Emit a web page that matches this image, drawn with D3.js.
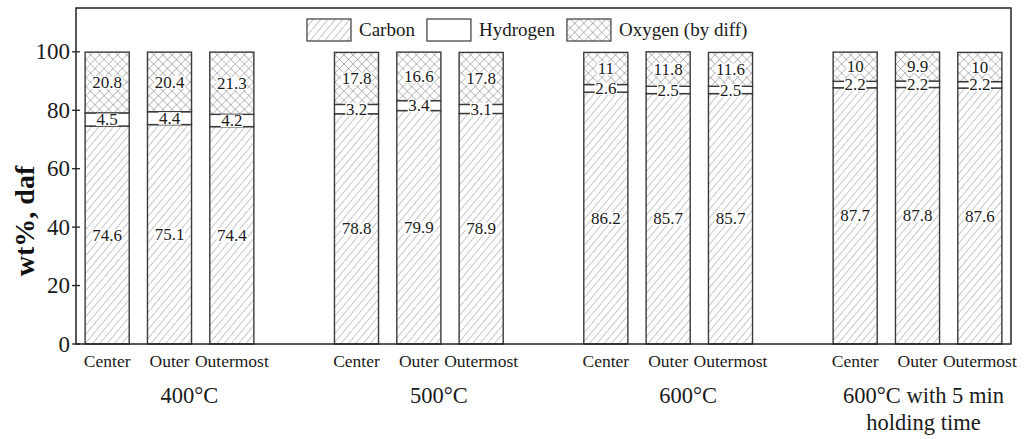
<!DOCTYPE html>
<html>
<head>
<meta charset="utf-8">
<script src="https://cdn.jsdelivr.net/npm/d3@7"></script>
<style>
  html, body { margin: 0; padding: 0; background: #fff; }
  svg { display: block; font-family: "Liberation Serif", "Times New Roman", serif; }
</style>
</head>
<body>
<svg id="chart" width="1025" height="439"></svg>
<script>
// Elemental composition of char samples (wt%, dry ash-free basis)
const groups = ["400°C", "500°C", "600°C", "600°C with 5 min|holding time"];
const positions = ["Center", "Outer", "Outermost"];
const carbon   = [74.6, 75.1, 74.4, 78.8, 79.9, 78.9, 86.2, 85.7, 85.7, 87.7, 87.8, 87.6];
const hydrogen = [4.5, 4.4, 4.2, 3.2, 3.4, 3.1, 2.6, 2.5, 2.5, 2.2, 2.2, 2.2];
const oxygen   = [20.8, 20.4, 21.3, 17.8, 16.6, 17.8, 11, 11.8, 11.6, 10, 9.9, 10];
const yTicks = [0, 20, 40, 60, 80, 100];
const seriesNames = ["Carbon", "Hydrogen", "Oxygen (by diff)"];

const W = 1025, H = 439;
const margin = { top: 8, right: 14, bottom: 95, left: 76 };
const svg = d3.select("#chart");

// Patterns: single diagonal hatch for carbon, cross-hatch for oxygen
const defs = svg.append("defs");
const hatch = defs.append("pattern")
  .attr("id", "hatchC").attr("patternUnits", "userSpaceOnUse")
  .attr("width", 5.6).attr("height", 10)
  .attr("patternTransform", "rotate(40)");
hatch.append("rect").attr("width", 5.6).attr("height", 10).attr("fill", "#fff");
hatch.append("line").attr("x1", 0).attr("y1", 0).attr("x2", 0).attr("y2", 10)
  .attr("stroke", "#808080").attr("stroke-width", 0.9);

const cross = defs.append("pattern")
  .attr("id", "hatchO").attr("patternUnits", "userSpaceOnUse")
  .attr("width", 6.4).attr("height", 6.4)
  .attr("patternTransform", "rotate(45)");
cross.append("rect").attr("width", 6.4).attr("height", 6.4).attr("fill", "#fff");
cross.append("line").attr("x1", 0).attr("y1", 0).attr("x2", 0).attr("y2", 6.4)
  .attr("stroke", "#707070").attr("stroke-width", 0.8);
cross.append("line").attr("x1", 0).attr("y1", 0).attr("x2", 6.4).attr("y2", 0)
  .attr("stroke", "#707070").attr("stroke-width", 0.8);

const fills = ["url(#hatchC)", "#fff", "url(#hatchO)"];

// Slots: each group holds one slot per position plus one empty spacer slot
const perGroup = positions.length + 1;
const nSlots = groups.length * perGroup - 1;
const x = d3.scaleBand()
  .domain(d3.range(nSlots))
  .range([margin.left, W - margin.right])
  .paddingInner(0.293)
  .paddingOuter(0.1465);

const y = d3.scaleLinear()
  .domain([0, 115])
  .range([H - margin.bottom, margin.top]);

// Build stacked records
const records = [];
groups.forEach((g, gi) => {
  positions.forEach((p, pi) => {
    const k = gi * positions.length + pi;
    const vals = [carbon[k], hydrogen[k], oxygen[k]];
    let acc = 0;
    const segs = vals.map((v, si) => {
      const s = { series: si, v, y0: acc, y1: acc + v };
      acc += v;
      return s;
    });
    records.push({ group: gi, pos: pi, slot: gi * perGroup + pi, segs });
  });
});

// Bars
const barG = svg.append("g");
records.forEach(r => {
  r.segs.forEach(s => {
    barG.append("rect")
      .attr("x", x(r.slot))
      .attr("y", y(s.y1))
      .attr("width", x.bandwidth())
      .attr("height", y(s.y0) - y(s.y1))
      .attr("fill", fills[s.series])
      .attr("stroke", "#3a3a3a")
      .attr("stroke-width", 1.4);
  });
});

// Value labels with a white backing so they read over the hatching
const labelG = svg.append("g");
const fsVal = 17;
records.forEach(r => {
  r.segs.forEach(s => {
    const cx = x(r.slot) + x.bandwidth() / 2;
    const cy = (y(s.y0) + y(s.y1)) / 2;
    const g = labelG.append("g");
    const t = g.append("text")
      .attr("x", cx)
      .attr("y", cy + fsVal * 0.33)
      .attr("text-anchor", "middle")
      .attr("font-size", fsVal)
      .attr("fill", "#1a1a1a")
      .text(s.v);
    const bb = t.node().getBBox();
    g.insert("rect", "text")
      .attr("x", bb.x - 0.5)
      .attr("y", cy + fsVal * 0.33 - fsVal * 0.68)
      .attr("width", bb.width + 1)
      .attr("height", fsVal * 0.74)
      .attr("fill", "#fff");
  });
});

// Frame
svg.append("rect")
  .attr("x", margin.left).attr("y", margin.top)
  .attr("width", W - margin.left - margin.right)
  .attr("height", H - margin.top - margin.bottom)
  .attr("fill", "none")
  .attr("stroke", "#222")
  .attr("stroke-width", 1.5);

// Y axis ticks crossing the frame line
const yAxis = svg.append("g");
yTicks.forEach(v => {
  yAxis.append("line")
    .attr("x1", margin.left - 4).attr("x2", margin.left + 4)
    .attr("y1", y(v)).attr("y2", y(v))
    .attr("stroke", "#222").attr("stroke-width", 1.3);
  yAxis.append("text")
    .attr("x", margin.left - 6)
    .attr("y", y(v) + 7.5)
    .attr("text-anchor", "end")
    .attr("font-size", 23)
    .attr("fill", "#1a1a1a")
    .text(v);
});

svg.append("text")
  .attr("transform", "translate(34, 221) rotate(-90)")
  .attr("text-anchor", "middle")
  .attr("font-size", 28)
  .attr("font-weight", "bold")
  .attr("fill", "#111")
  .text("wt%, daf");

// Position labels under each bar
const xLab = svg.append("g");
records.forEach(r => {
  xLab.append("text")
    .attr("x", x(r.slot) + x.bandwidth() / 2)
    .attr("y", H - margin.bottom + 23)
    .attr("text-anchor", "middle")
    .attr("font-size", 17.5)
    .attr("fill", "#1a1a1a")
    .text(positions[r.pos]);
});

// Group labels
groups.forEach((g, gi) => {
  const lines = g.split("|");
  const mid = x(gi * perGroup + 1) + x.bandwidth() / 2 + (lines.length > 1 ? 6 : 20);
  const t = svg.append("text")
    .attr("text-anchor", "middle")
    .attr("font-size", 22.5)
    .attr("fill", "#1a1a1a");
  lines.forEach((ln, li) => {
    t.append("tspan")
      .attr("x", mid)
      .attr("y", H - margin.bottom + 59 + li * 27)
      .text(ln);
  });
});

// Legend row
const legend = svg.append("g");
let lx = 307;
const ly = 19;
seriesNames.forEach((name, i) => {
  legend.append("rect")
    .attr("x", lx).attr("y", ly)
    .attr("width", 44).attr("height", 22)
    .attr("fill", fills[i])
    .attr("stroke", "#3a3a3a")
    .attr("stroke-width", 1.2);
  const t = legend.append("text")
    .attr("x", lx + 52)
    .attr("y", ly + 17)
    .attr("font-size", 19)
    .attr("fill", "#1a1a1a")
    .text(name);
  lx += 52 + t.node().getComputedTextLength() + 12;
});
</script>
</body>
</html>
